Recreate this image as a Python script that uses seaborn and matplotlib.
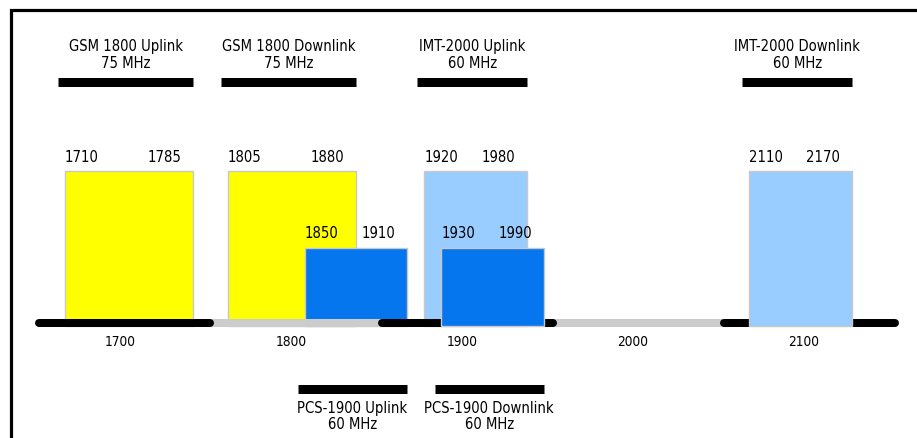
import matplotlib
matplotlib.use("Agg")
import matplotlib.pyplot as plt
from matplotlib.patches import Rectangle
from matplotlib import font_manager as fm
import seaborn as sns

# ---------------- data ----------------
band_names = ["GSM 1800 Uplink", "GSM 1800 Downlink", "IMT-2000 Uplink",
              "PCS-1900 Uplink", "PCS-1900 Downlink", "IMT-2000 Downlink"]
band_start = [1710, 1805, 1920, 1850, 1930, 2110]   # MHz
band_end = [1785, 1880, 1980, 1910, 1990, 2170]     # MHz
band_row = ["upper", "upper", "upper", "lower", "lower", "upper"]
axis_ticks = [1700, 1800, 1900, 2000, 2100]

# ---------------- styles ----------------
band_colors = ["#ffff00", "#ffff00", "#99ccff", "#0576ee", "#0576ee", "#99ccff"]
band_z = [1, 1, 1, 1.5, 3, 3]
seg_colors = ["black", "#cccccc", "black", "#cccccc", "black"]
TALL, SHORT = 155, 78
SPAN_UP_Y, TITLE_UP_Y = 244, 272
SPAN_LO_Y, TITLE_LO_Y = -63, -74
AXIS_Y, TICK_Y = 3, -15

sns.set_theme(style="white")


def pick_font():
    narrow, cond = None, None
    for f in fm.fontManager.ttflist:
        nm = f.fname.lower()
        if "bold" in nm or "italic" in nm or "oblique" in nm:
            continue
        if "liberationsansnarrow" in nm.replace("-", "").replace(" ", "") and narrow is None:
            narrow = f.fname
        if "dejavusanscondensed" in nm.replace("-", "").replace(" ", "") and cond is None:
            cond = f.fname
    if narrow:
        return fm.FontProperties(fname=narrow), 12.0, 11.0
    if cond:
        return fm.FontProperties(fname=cond), 10.6, 9.8
    return fm.FontProperties(family="Liberation Sans"), 10.0, 9.5


FP, FS, FS_TICK = pick_font()
plt.rcParams["font.family"] = [FP.get_name(), "DejaVu Sans"]
plt.rcParams["text.color"] = "black"

W, H = 917, 439
fig = plt.figure(figsize=(W / 100, H / 100), dpi=100)
ax = fig.add_axes([0, 0, 1, 1])
ax.set_xlim(1672, 2208)
ax.set_ylim(-112, 327)
ax.axis("off")

# frame
fig.patches.append(Rectangle((10.5 / W, -0.2), 1.5, (H - 10.5) / H + 0.2,
                             transform=fig.transFigure, fill=False,
                             edgecolor="black", linewidth=2.3))


def txt(x, y, s, size, **kw):
    fp = FP.copy()
    fp.set_size(size)
    return ax.text(x, y, s, fontproperties=fp, color="black", **kw)


# frequency axis (alternating segments)
px = 72 / 100  # points per pixel
for d, c in zip(axis_ticks, seg_colors):
    lo, hi = d - 5, d + 95
    if c == "black":
        ax.plot([lo, hi], [AXIS_Y, AXIS_Y], color=c, lw=8 * px,
                solid_capstyle="round", zorder=2.5)
    else:
        ax.plot([lo, hi], [AXIS_Y, AXIS_Y], color=c, lw=8 * px,
                solid_capstyle="butt", zorder=2)
    txt(d + 42, TICK_Y, str(d), FS_TICK, ha="center", va="center")

# bands
for name, s, e, row, col, z in zip(band_names, band_start, band_end,
                                   band_row, band_colors, band_z):
    h = TALL if row == "upper" else SHORT
    ax.bar(s, h, width=e - s, bottom=0, align="edge", color=col,
           edgecolor="#c8c8c8", linewidth=1.0, zorder=z)
    fp = FP.copy()
    fp.set_size(FS)
    ax.annotate(str(s), (s, h), xytext=(0, 15), textcoords="offset pixels",
                ha="left", va="center", fontproperties=fp, color="black", zorder=5)
    ax.annotate(str(e), (e, h), xytext=(-12, 15), textcoords="offset pixels",
                ha="right", va="center", fontproperties=fp, color="black", zorder=5)
    label = f"{name}\n{e - s} MHz"
    cx = (s - 4 + e) / 2
    if row == "upper":
        ax.plot([s - 4, e], [SPAN_UP_Y, SPAN_UP_Y], color="black",
                lw=9 * px, solid_capstyle="butt")
        txt(cx, TITLE_UP_Y, label, FS, ha="center", va="center", linespacing=1.15)
    else:
        ax.plot([s - 4, e], [SPAN_LO_Y, SPAN_LO_Y], color="black",
                lw=9 * px, solid_capstyle="butt")
        txt(cx, TITLE_LO_Y, label, FS, ha="center", va="top", linespacing=1.05)

fig.savefig("out.png", dpi=100)
